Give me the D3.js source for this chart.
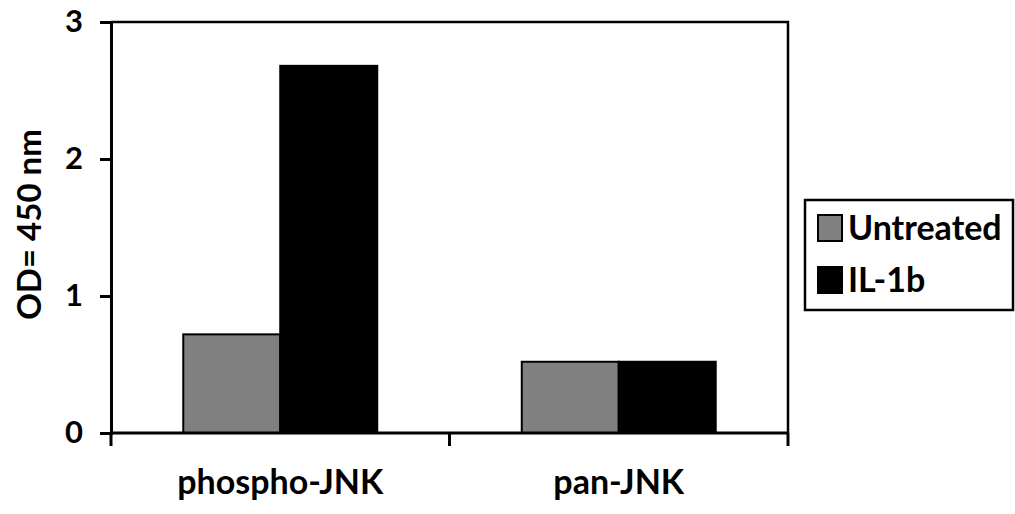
<!DOCTYPE html>
<html>
<head>
<meta charset="utf-8">
<script src="https://cdn.jsdelivr.net/npm/d3@7"></script>
<style>
  body { margin: 0; background: #fff; }
  text { font-family: Lato, "Open Sans", sans-serif; font-weight: 700; }
</style>
</head>
<body>
<svg id="chart" width="1015" height="514"></svg>
<script>
const categories = ["phospho-JNK", "pan-JNK"]
const seriesNames = ["Untreated", "IL-1b"]
const untreated = [0.72, 0.52]
const il1b = [2.68, 0.52]
const yTicks = [0, 1, 2, 3]
const colors = ["#808080", "#000000"]

const width = 1015, height = 514
const margin = {top: 22, right: 227, bottom: 81, left: 111}

const svg = d3.select("#chart")

const x = d3.scaleBand()
  .domain(categories)
  .range([margin.left, width - margin.right])

const x1 = d3.scaleBand()
  .domain(seriesNames)
  .range([0, x.bandwidth()])
  .paddingOuter(0.745)

const y = d3.scaleLinear()
  .domain([0, 3])
  .range([height - margin.bottom, margin.top])

const rows = categories.map((c, i) => ({cat: c, values: [untreated[i], il1b[i]]}))

// plot frame (top + right)
svg.append("path")
  .attr("d", `M${margin.left},${margin.top}H${width - margin.right}V${height - margin.bottom}`)
  .attr("fill", "none")
  .attr("stroke", "#000")
  .attr("stroke-width", 2.5)

// bars
svg.append("g")
  .selectAll("g")
  .data(rows)
  .join("g")
    .attr("transform", d => `translate(${x(d.cat)},0)`)
  .selectAll("rect")
  .data(d => d.values.map((v, i) => ({name: seriesNames[i], v: v, i: i})))
  .join("rect")
    .attr("x", d => x1(d.name))
    .attr("width", x1.bandwidth())
    .attr("y", d => y(d.v))
    .attr("height", d => y(0) - y(d.v))
    .attr("fill", d => colors[d.i])
    .attr("stroke", "#000")
    .attr("stroke-width", 2)

// y axis
svg.append("g")
  .attr("transform", `translate(${margin.left},0)`)
  .call(d3.axisLeft(y).tickValues(yTicks).tickFormat(d3.format("d")).tickSize(11).tickPadding(17))
  .call(g => g.selectAll("path, line").attr("stroke", "#000").attr("stroke-width", 3))
  .call(g => g.selectAll("text").attr("font-size", 31).attr("font-family", "Lato").attr("font-weight", 700).attr("fill", "#000"))

// x axis, ticks at band edges
const xEdges = [margin.left, ...categories.map(c => x(c) + x.bandwidth())]
const xa = svg.append("g")
  .attr("transform", `translate(0,${height - margin.bottom})`)
xa.append("line")
  .attr("x1", margin.left).attr("x2", width - margin.right)
  .attr("stroke", "#000").attr("stroke-width", 3)
xa.selectAll(".edge")
  .data(xEdges)
  .join("line")
    .attr("class", "edge")
    .attr("x1", d => d).attr("x2", d => d)
    .attr("y1", 0).attr("y2", 13)
    .attr("stroke", "#000").attr("stroke-width", 3)
xa.selectAll(".lbl")
  .data(categories)
  .join("text")
    .attr("class", "lbl")
    .attr("x", d => x(d) + x.bandwidth() / 2)
    .attr("y", 61)
    .attr("text-anchor", "middle")
    .attr("font-size", 34)
    .text(d => d)

// y title
svg.append("text")
  .attr("transform", `translate(41,${(margin.top + height - margin.bottom) / 2 - 3}) rotate(-90)`)
  .attr("text-anchor", "middle")
  .attr("font-size", 33)
  .text("OD= 450 nm")

// legend
const lg = svg.append("g").attr("transform", "translate(805,200)")
lg.append("rect")
  .attr("width", 208).attr("height", 110)
  .attr("fill", "#fff").attr("stroke", "#000").attr("stroke-width", 2.5)
const items = lg.selectAll(".item")
  .data(seriesNames)
  .join("g")
    .attr("class", "item")
    .attr("transform", (d, i) => `translate(13,${15 + i * 52})`)
items.append("rect")
  .attr("width", 24).attr("height", 26)
  .attr("fill", (d, i) => colors[i])
  .attr("stroke", "#000").attr("stroke-width", 2)
items.append("text")
  .attr("x", 30).attr("y", 25)
  .attr("font-size", 34)
  .text(d => d)
</script>
</body>
</html>
